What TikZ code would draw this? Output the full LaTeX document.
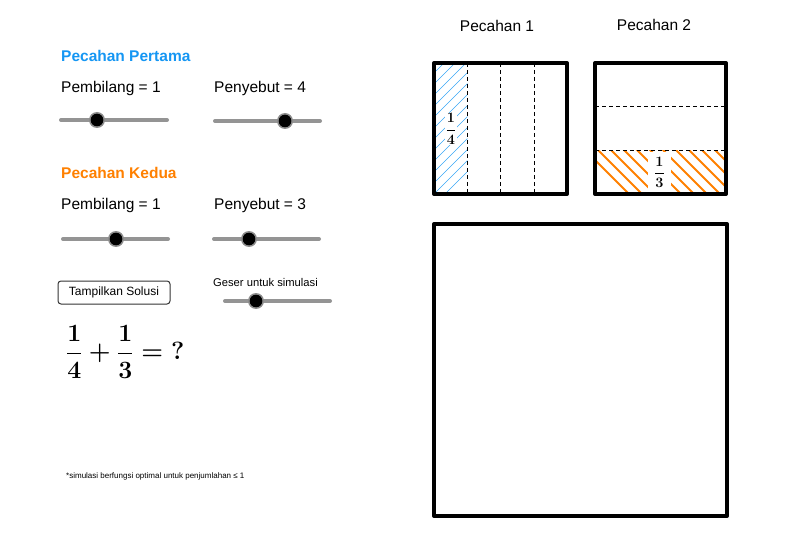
\documentclass[tikz,border=0pt]{standalone}
\usepackage{amsmath}
\usepackage[no-math]{fontspec}
\setmainfont{Liberation Sans}
\definecolor{ggbblue}{RGB}{21,150,243}
\definecolor{ggborange}{RGB}{255,128,0}
\tikzset{
  lbl/.style={inner sep=0pt, anchor=base west, font=\fontsize{15.5}{18}\selectfont},
  judul/.style={lbl, font=\fontsize{15.5}{18}\selectfont\bfseries},
  track/.style={line width=4pt, color=black!42, line cap=round},
  kotak/.style={line width=4pt, line join=round},
  garis/.style={thin, dash pattern=on 4pt off 3pt},
  pecah/.style={fill=white, inner sep=1pt, font=\fontsize{14}{16}\selectfont\boldmath}
}
\begin{document}
\begin{tikzpicture}[x=1pt,y=-1pt]
  \useasboundingbox (0,0) rectangle (802,545);
  % panel kiri
  \node[judul, text=ggbblue] (judul1) at (61,62) {Pecahan Pertama};
  \node[lbl] (pembilang1) at (61,93) {Pembilang = 1};
  \node[lbl] (penyebut1) at (214,93) {Penyebut = 4};
  \node[judul, text=ggborange] (judul2) at (61,179) {Pecahan Kedua};
  \node[lbl] (pembilang2) at (61,210) {Pembilang = 1};
  \node[lbl] (penyebut2) at (214,210) {Penyebut = 3};
  \foreach \xa/\xb/\xk/\y in {61/167/97/120, 215/320/285/121, 63/168/116/239, 214/319/249/239, 225/330/256/301} {
    \draw[track] (\xa,\y) -- (\xb,\y);
    \fill[black!45] (\xk,\y) circle (8pt);
    \fill[black] (\xk,\y) circle (6.3pt);
  }
  \node[draw=black!80, line width=1pt, rounded corners=3pt, minimum width=112pt, minimum height=23pt,
        inner sep=0pt, font=\fontsize{12}{14}\selectfont] (tombol) at (114,292.5) {Tampilkan Solusi};
  \node[lbl, font=\fontsize{11.2}{13}\selectfont] (geser) at (213,286) {Geser untuk simulasi};
  \node[inner sep=0pt, anchor=west, font=\fontsize{26}{30}\selectfont\boldmath] (soal) at (66,352)
    {$\displaystyle\frac{1}{4}+\frac{1}{3}={?}$};
  \node[lbl, font=\fontsize{8}{9}\selectfont] (catatan) at (66,478) {*simulasi berfungsi optimal untuk penjumlahan ≤ 1};
  % pecahan 1
  \node[font=\fontsize{15.5}{18}\selectfont] (p1) at (497,26) {Pecahan 1};
  \begin{scope}
    \clip (434,63) rectangle (467.25,194);
    \foreach \i in {0,...,16} {
      \draw[ggbblue!85, line width=0.5pt] (434,205-\i*11) -- (474,165-\i*11);
    }
  \end{scope}
  \foreach \x in {467.25, 500.5, 533.75} {
    \draw[garis] (\x,63) -- (\x,194);
  }
  \draw[kotak] (434,63) rectangle (567,194);
  \node[pecah] (f1) at (451,129) {$\displaystyle\frac{1}{4}$};
  % pecahan 2
  \node[font=\fontsize{15.5}{18}\selectfont] (p2) at (654,25) {Pecahan 2};
  \begin{scope}
    \clip (595,150.3) rectangle (726,194);
    \foreach \i in {0,...,14} {
      \draw[ggborange, line width=2pt] (580+\i*13,145) -- (580+\i*13+55,200);
    }
  \end{scope}
  \foreach \y in {106.7, 150.3} {
    \draw[garis] (595,\y) -- (726,\y);
  }
  \draw[kotak] (595,63) rectangle (726,194);
  \node[pecah, minimum width=23pt, minimum height=40pt] (f2) at (659.5,172.5) {$\displaystyle\frac{1}{3}$};
  % hasil
  \draw[kotak] (434,224) rectangle (727,516);
\end{tikzpicture}
\end{document}
